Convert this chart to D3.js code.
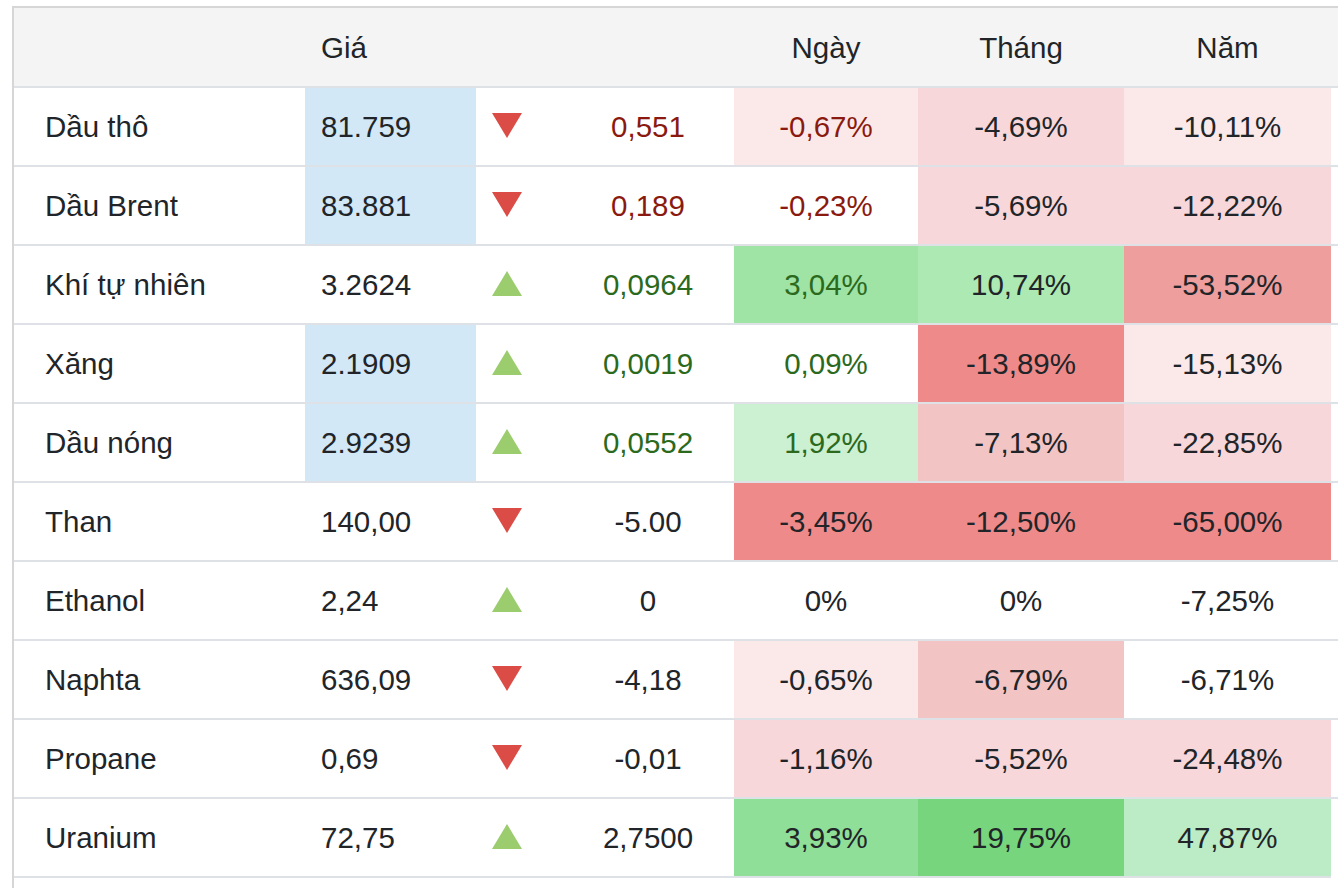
<!DOCTYPE html>
<html>
<head>
<meta charset="utf-8">
<script src="https://cdn.jsdelivr.net/npm/d3@7/dist/d3.min.js"></script>
<style>
  html, body { margin: 0; padding: 0; background: #ffffff; }
  svg { display: block; }
  text { font-family: "Liberation Sans", Arial, Helvetica, sans-serif; }
</style>
</head>
<body>
<svg id="chart" width="1338" height="888"></svg>
<script>
// ---------- data ----------
const headers = ["", "Giá", "", "", "Ngày", "Tháng", "Năm"];
const names = ["Dầu thô", "Dầu Brent", "Khí tự nhiên", "Xăng", "Dầu nóng", "Than", "Ethanol", "Naphta", "Propane", "Uranium"];
const prices = ["81.759", "83.881", "3.2624", "2.1909", "2.9239", "140,00", "2,24", "636,09", "0,69", "72,75"];
const priceHighlight = [true, true, false, true, true, false, false, false, false, false];
const direction = ["down", "down", "up", "up", "up", "down", "up", "down", "down", "up"];
const changes = ["0,551", "0,189", "0,0964", "0,0019", "0,0552", "-5.00", "0", "-4,18", "-0,01", "2,7500"];
const dayPct = ["-0,67%", "-0,23%", "3,04%", "0,09%", "1,92%", "-3,45%", "0%", "-0,65%", "-1,16%", "3,93%"];
const monthPct = ["-4,69%", "-5,69%", "10,74%", "-13,89%", "-7,13%", "-12,50%", "0%", "-6,79%", "-5,52%", "19,75%"];
const yearPct = ["-10,11%", "-12,22%", "-53,52%", "-15,13%", "-22,85%", "-65,00%", "-7,25%", "-6,71%", "-24,48%", "47,87%"];
// heat level of each cell (negative = red shades, positive = green shades, 0 = none)
const dayLevel = [-1, 0, 3, 0, 1, -4, 0, -1, -2, 4];
const monthLevel = [-2, -2, 2, -4, -3, -4, 0, -3, -2, 5];
const yearLevel = [-1, -2, -3.5, -1, -2, -4, 0, 0, -2, 1.5];
// rows whose change / day values are tinted by direction
const tinted = [true, true, true, true, true, false, false, false, false, false];

// ---------- styles ----------
const heatColor = {
  "-4": "#ef8a8a", "-3.5": "#ed9e9d", "-3": "#f3c4c4", "-2": "#f7d7d9", "-1": "#fbe9e9",
  "1": "#cbf0d2", "1.5": "#bbecc5", "2": "#ace9b3", "3": "#9fe3a5", "4": "#8fdf98", "5": "#77d57d"
};
const textDark = "#212529";
const textRed = "#8a1a10";
const textGreen = "#2b6a1d";
const triRed = "#dc4c46";
const triGreen = "#9bcc6e";
const fontSize = 29.5;

const W = 1338, H = 888;
const svg = d3.select("#chart");

// column edges
const cols = {
  nameX: 45,
  priceL: 305, priceR: 476, priceText: 321,
  arrowC: 507,
  changeC: 648,
  dayL: 734, dayR: 918,
  monthL: 918, monthR: 1124,
  yearL: 1124, yearR: 1331
};

const headerTop = 8, headerBottom = 86;
const y = d3.scaleBand().domain(d3.range(names.length)).range([88, 88 + 79 * names.length]).paddingInner(0);
const cellH = y.bandwidth() - 2;

// header
svg.append("rect").attr("x", 14).attr("y", headerTop).attr("width", W - 14).attr("height", headerBottom - headerTop).attr("fill", "#f4f4f4");
svg.append("rect").attr("x", 12).attr("y", 6).attr("width", W - 12).attr("height", 2).attr("fill", "#d6d6d6");
svg.append("rect").attr("x", 12).attr("y", 6).attr("width", 2).attr("height", H - 6).attr("fill", "#d6d6d6");
svg.append("rect").attr("x", 14).attr("y", headerBottom).attr("width", W - 14).attr("height", 2).attr("fill", "#dee2e6");

const headerY = (headerTop + headerBottom) / 2 + 1;
const headerDefs = [
  { t: headers[1], x: cols.priceText, a: "start" },
  { t: headers[4], x: (cols.dayL + cols.dayR) / 2, a: "middle" },
  { t: headers[5], x: (cols.monthL + cols.monthR) / 2, a: "middle" },
  { t: headers[6], x: (cols.yearL + cols.yearR) / 2, a: "middle" }
];
svg.selectAll("text.hdr").data(headerDefs).join("text")
  .attr("class", "hdr")
  .attr("x", d => d.x).attr("y", headerY).attr("dy", "0.35em")
  .attr("text-anchor", d => d.a)
  .attr("font-size", fontSize).attr("fill", textDark)
  .text(d => d.t);

const rows = svg.selectAll("g.row").data(d3.range(names.length)).join("g")
  .attr("class", "row")
  .attr("transform", i => `translate(0,${y(i)})`);

// price highlight
rows.filter(i => priceHighlight[i]).append("rect")
  .attr("x", cols.priceL).attr("y", 0).attr("width", cols.priceR - cols.priceL).attr("height", cellH)
  .attr("fill", "#d3e8f6");

// heat cells
const heatCols = [
  { lv: dayLevel, l: cols.dayL, r: cols.dayR },
  { lv: monthLevel, l: cols.monthL, r: cols.monthR },
  { lv: yearLevel, l: cols.yearL, r: cols.yearR }
];
heatCols.forEach(c => {
  rows.filter(i => c.lv[i] !== 0).append("rect")
    .attr("x", c.l).attr("y", 0).attr("width", c.r - c.l).attr("height", cellH)
    .attr("fill", i => heatColor[String(c.lv[i])]);
});

// row separator lines
rows.append("rect")
  .attr("x", 14).attr("y", cellH)
  .attr("width", i => i === names.length - 1 ? cols.yearR - 14 : W - 14)
  .attr("height", 2).attr("fill", "#dee2e6");

const midY = cellH / 2 + 0.5;

function addText(sel, xFn, anchor, txtFn, colorFn) {
  sel.append("text")
    .attr("x", xFn).attr("y", midY).attr("dy", "0.35em")
    .attr("text-anchor", anchor)
    .attr("font-size", fontSize)
    .attr("fill", colorFn)
    .text(txtFn);
}

const toneColor = i => tinted[i] ? (direction[i] === "down" ? textRed : textGreen) : textDark;

addText(rows, cols.nameX, "start", i => names[i], () => textDark);
addText(rows, cols.priceText, "start", i => prices[i], () => textDark);
addText(rows, cols.changeC, "middle", i => changes[i], toneColor);
addText(rows, (cols.dayL + cols.dayR) / 2, "middle", i => dayPct[i], toneColor);
addText(rows, (cols.monthL + cols.monthR) / 2, "middle", i => monthPct[i], () => textDark);
addText(rows, (cols.yearL + cols.yearR) / 2, "middle", i => yearPct[i], () => textDark);

// arrows
const triW = 30, triH = 25;
rows.append("path")
  .attr("d", i => {
    const cx = cols.arrowC, cy = midY - 1.5;
    if (direction[i] === "down") {
      return `M${cx - triW / 2},${cy - triH / 2}L${cx + triW / 2},${cy - triH / 2}L${cx},${cy + triH / 2}Z`;
    }
    return `M${cx - triW / 2},${cy + triH / 2}L${cx + triW / 2},${cy + triH / 2}L${cx},${cy - triH / 2}Z`;
  })
  .attr("fill", i => direction[i] === "down" ? triRed : triGreen);
</script>
</body>
</html>
